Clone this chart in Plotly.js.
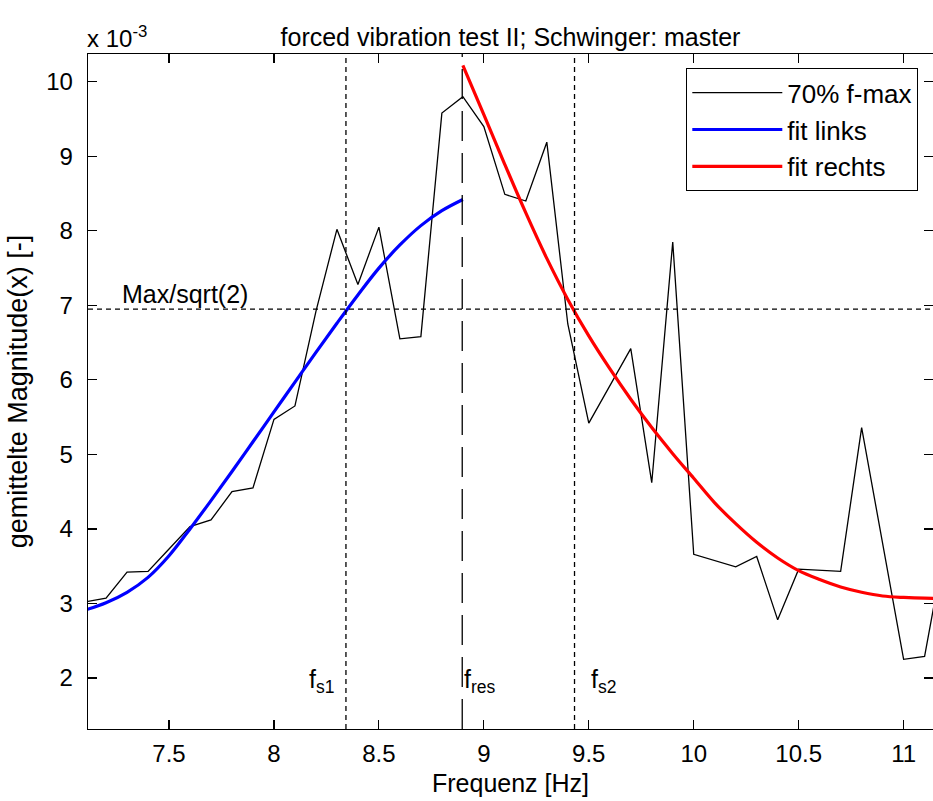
<!DOCTYPE html>
<html><head><meta charset="utf-8">
<script src="https://cdn.plot.ly/plotly-3.0.1.min.js"></script>
<style>html,body{margin:0;padding:0;background:#fff;}#chart{width:933px;height:801px;}</style>
</head><body><div id="chart"></div>
<script>
// measured spectrum (x 10^-3)
const freq = [7.1,7.2,7.3,7.4,7.5,7.6,7.7,7.8,7.9,8.0,8.1,8.2,8.3,8.4,8.5,8.6,8.7,8.8,8.9,9.0,
              9.1,9.2,9.3,9.4,9.5,9.6,9.7,9.8,9.9,10.0,10.1,10.2,10.3,10.4,10.5,10.6,10.7,10.8,10.9,11.0,11.1,11.2];
const magnitude = [3.02,3.07,3.42,3.43,3.73,4.03,4.12,4.50,4.55,5.47,5.65,6.92,8.02,7.28,8.05,6.55,6.58,9.58,9.80,9.40,
                   8.49,8.40,9.19,6.75,5.42,5.92,6.42,4.62,7.85,3.66,3.57,3.49,3.63,2.78,3.46,3.45,3.43,5.36,3.81,2.25,2.29,3.82];
// left fit
const freqLeft = [7.1,7.2,7.3,7.4,7.5,7.6,7.7,7.8,7.9,8.0,8.1,8.2,8.3,8.4,8.5,8.6,8.7,8.8,8.9];
const fitLeft  = [2.91,3.01,3.15,3.35,3.64,4.00,4.38,4.77,5.17,5.57,5.97,6.37,6.76,7.14,7.50,7.81,8.07,8.27,8.42];
// right fit
const freqRight = [8.9,9.0,9.1,9.2,9.3,9.4,9.5,9.6,9.7,9.8,9.9,10.0,10.1,10.2,10.3,10.4,10.5,10.6,10.7,10.8,10.9,11.0,11.1,11.2];
const fitRight  = [10.22,9.56,8.89,8.24,7.63,7.08,6.59,6.15,5.74,5.36,5.01,4.68,4.35,4.07,3.82,3.61,3.44,3.32,3.22,3.15,3.10,3.08,3.07,3.07];
// markers
const fS1 = 8.343, fRes = 8.897, fS2 = 9.432;
const maxOverSqrt2 = 6.95;
const xTicks = [7.5,8,8.5,9,9.5,10,10.5,11];
const yTicks = [2,3,4,5,6,7,8,9,10];
const seriesNames = ['70% f-max','fit links','fit rechts'];
const xRange = [7.114, 11.14];
const yRange = [1.315, 10.373];

const FONT = '"Liberation Sans", Arial, sans-serif';
const FS = 25;

const traces = [
  {x: freq, y: magnitude, name: seriesNames[0], type:'scatter', mode:'lines', line:{color:'#000000', width:1.3}},
  {x: freqLeft, y: fitLeft, name: seriesNames[1], type:'scatter', mode:'lines', line:{color:'#0000ff', width:3.2, shape:'spline'}},
  {x: freqRight, y: fitRight, name: seriesNames[2], type:'scatter', mode:'lines', line:{color:'#ff0000', width:3.2, shape:'spline'}}
];

const dotted = {color:'#000', width:1.3, dash:'5px,4px'};
const shapes = [
  {type:'line', xref:'paper', x0:0, x1:1, yref:'y', y0:maxOverSqrt2, y1:maxOverSqrt2, line:dotted},
  {type:'line', xref:'x', x0:fS1, x1:fS1, yref:'paper', y0:0, y1:1, line:dotted},
  {type:'line', xref:'x', x0:fS2, x1:fS2, yref:'paper', y0:0, y1:1, line:dotted},
  {type:'line', xref:'x', x0:fRes, x1:fRes, yref:'paper', y0:0, y1:1, line:{color:'#000', width:1.3, dash:'30px,12px'}}
];

const annFont = {family:FONT, size:FS, color:'#000'};
const annotations = [
  {text:'Max/sqrt(2)', xref:'x', x:7.265, yref:'y', y:maxOverSqrt2, xanchor:'left', yanchor:'bottom', showarrow:false, font:annFont, yshift:-1},
  {text:'f<sub>s1</sub>', xref:'x', x:fS1, yref:'y', y:1.96, xanchor:'right', yanchor:'middle', xshift:-10, showarrow:false, font:annFont},
  {text:'f<sub>res</sub>', xref:'x', x:fRes, yref:'y', y:1.96, xanchor:'left', yanchor:'middle', xshift:0, showarrow:false, font:annFont},
  {text:'f<sub>s2</sub>', xref:'x', x:fS2, yref:'y', y:1.96, xanchor:'left', yanchor:'middle', xshift:14, showarrow:false, font:annFont},
  {text:'x 10<sup>-3</sup>', xref:'paper', x:-0.003, yref:'paper', y:1.0, xanchor:'left', yanchor:'bottom', showarrow:false, font:{family:FONT, size:24, color:'#000'}}
];

const axisCommon = {
  showgrid:false, zeroline:false, showline:true, linecolor:'#000', linewidth:1.3, mirror:'ticks',
  ticks:'inside', ticklen:9, tickwidth:1.2, tickcolor:'#000',
  tickfont:{family:FONT, size:24, color:'#000'}, automargin:false
};

const layout = {
  width:933, height:801,
  margin:{l:88, r:0, t:54, b:72},
  paper_bgcolor:'#fff', plot_bgcolor:'#fff',
  font:{family:FONT, size:FS, color:'#000'},
  title:{text:'forced vibration test II; Schwinger: master', font:{family:FONT, size:FS, color:'#000'},
         xref:'paper', x:0.5, xanchor:'center', yref:'container', y:1-37/801, yanchor:'middle'},
  xaxis: Object.assign({}, axisCommon, {range:xRange, tickvals:xTicks, ticktext:xTicks.map(String), ticklabelstandoff:3,
         title:{text:'Frequenz [Hz]', font:{family:FONT, size:FS, color:'#000'}, standoff:8}}),
  yaxis: Object.assign({}, axisCommon, {range:yRange, tickvals:yTicks, ticktext:yTicks.map(String), ticklabelstandoff:9,
         title:{text:'gemittelte Magnitude(x) [-]', font:{family:FONT, size:27, color:'#000'}, standoff:10}}),
  showlegend:true,
  legend:{x:(686-88)/845, y:(729-68)/675, xanchor:'left', yanchor:'top', bgcolor:'#fff', bordercolor:'#000', borderwidth:1.3,
          font:{family:FONT, size:26, color:'#000'}, itemwidth:90, tracegroupgap:0},
  shapes:shapes, annotations:annotations
};

Plotly.newPlot('chart', traces, layout, {staticPlot:true, displayModeBar:false});
</script></body></html>
